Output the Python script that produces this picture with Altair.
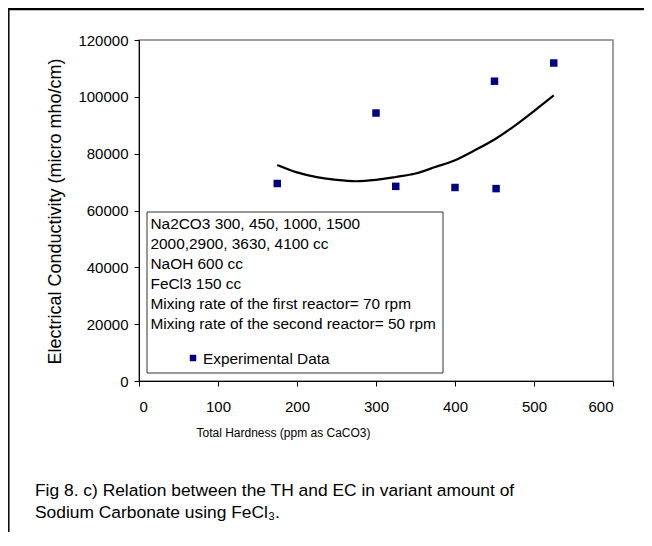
import altair as alt
import pandas as pd

th = [175, 300, 325, 400, 450, 452, 525]
ec = [69500, 94300, 68500, 68100, 105500, 67700, 111900]

# Trend curve as drawn in the picture
trend_th = [175, 200, 225, 250, 275, 300, 325, 350, 375, 400, 425, 450, 475, 500, 525]
trend_ec = [76000, 73400, 71750, 70760, 70300, 70800, 71800, 73000, 75300,
            77700, 81200, 85000, 89700, 95000, 100500]

x_ticks = [0, 100, 200, 300, 400, 500, 600]
y_ticks = [0, 20000, 40000, 60000, 80000, 100000, 120000]

legend_lines = [
    "Na2CO3  300, 450, 1000, 1500",
    "2000,2900, 3630, 4100 cc",
    "NaOH 600 cc",
    "FeCl3 150 cc",
    "Mixing rate of the first reactor= 70 rpm",
    "Mixing rate of the second reactor= 50 rpm",
]
legend_series = "Experimental Data"
caption_1 = "Fig 8. c) Relation between the TH and EC in variant amount of"
caption_2 = "Sodium Carbonate using  FeCl\u2083."
x_title = "Total Hardness (ppm as CaCO3)"
y_title = "Electrical Conductivity (micro mho/cm)"

FONT = "Liberation Sans"
NAVY = "#000080"

pts = pd.DataFrame({"TH": th, "EC": ec})
trend = pd.DataFrame({"TH": trend_th, "EC": trend_ec})

xs = alt.Scale(domain=[0, 600], nice=False)
ys = alt.Scale(domain=[0, 120000], nice=False)

x_axis = alt.Axis(values=x_ticks, title=x_title, titleX=144, titleY=51,
                  titleAlign="center", titleBaseline="middle",
                  titleFontSize=12, labelPadding=13)
y_axis = alt.Axis(values=y_ticks, title=y_title, format="d", titleX=-84, titleY=171,
                  titleAlign="center", titleBaseline="middle", titleAngle=-90,
                  titleFontSize=18, labelPadding=6)

base = alt.Chart(pts)

points = base.mark_square(size=56, color=NAVY, opacity=1).encode(
    x=alt.X("TH:Q", scale=xs, axis=x_axis),
    y=alt.Y("EC:Q", scale=ys, axis=y_axis),
)

curve = alt.Chart(trend).mark_line(color="black", strokeWidth=2.2, interpolate="monotone").encode(
    x=alt.X("TH:Q", scale=xs),
    y=alt.Y("EC:Q", scale=ys),
)

one = pd.DataFrame({"k": [0]})

legend_box = alt.Chart(one).mark_rect(fill="white", stroke="#333333", strokeWidth=1).encode(
    x=alt.value(8), x2=alt.value(304), y=alt.value(172), y2=alt.value(333)
)

legend_text = alt.Chart(one).mark_text(
    text=legend_lines, align="left", baseline="top", lineHeight=20,
    font=FONT, fontSize=15.4, color="black"
).encode(x=alt.value(11.5), y=alt.value(176.5))

legend_marker = alt.Chart(one).mark_square(size=42, color=NAVY, opacity=1).encode(
    x=alt.value(54), y=alt.value(318)
)

legend_label = alt.Chart(one).mark_text(
    text=legend_series, align="left", baseline="middle",
    font=FONT, fontSize=15.4, color="black"
).encode(x=alt.value(64), y=alt.value(318.5))

cap1 = alt.Chart(one).mark_text(
    text=caption_1, align="left", baseline="middle", font=FONT, fontSize=17.4, color="black"
).encode(x=alt.value(-104), y=alt.value(451))

cap2 = alt.Chart(one).mark_text(
    text=caption_2, align="left", baseline="middle", font=FONT, fontSize=17.4, color="black"
).encode(x=alt.value(-104), y=alt.value(473))

frame_top = alt.Chart(one).mark_rule(color="black", strokeWidth=2.5).encode(
    x=alt.value(-131), x2=alt.value(505), y=alt.value(-31)
)
frame_left = alt.Chart(one).mark_rule(color="black", strokeWidth=1.5).encode(
    x=alt.value(-130.2), y=alt.value(-32), y2=alt.value(492)
)

chart = alt.layer(
    frame_top, frame_left, curve, points, legend_box, legend_text,
    legend_marker, legend_label, cap1, cap2
).properties(
    width=474, height=341,
    autosize=alt.AutoSizeParams(type="none"),
    padding={"left": 131, "top": 32, "right": 31, "bottom": 151},
    background="white",
).configure_view(
    stroke="#808080", strokeWidth=1.5
).configure_axis(
    grid=False, domainColor="black", tickColor="black", tickSize=5,
    labelFont=FONT, labelFontSize=15, labelColor="black",
    titleFont=FONT, titleColor="black", titleFontWeight="normal",
)

chart.save("out.html", embed_options={"renderer": "svg", "actions": False})
